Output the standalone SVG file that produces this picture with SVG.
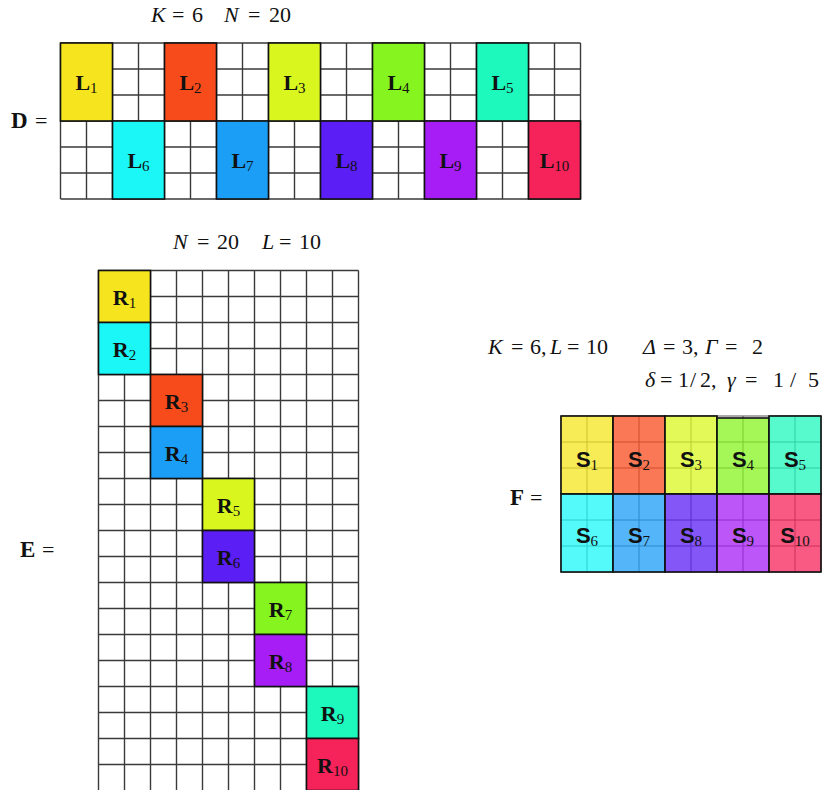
<svg xmlns="http://www.w3.org/2000/svg" width="830" height="790" viewBox="0 0 830 790">
<style>
.g{fill:none;stroke:#3a3a3a;stroke-width:1.4}
.gf{fill:none;stroke:#555;stroke-width:1}
.b{stroke:#111;stroke-width:1.6}
.f{stroke:#111;stroke-width:1.6;fill-opacity:0.75}
.m{font-family:"Liberation Serif","Times New Roman",serif;font-size:22px;fill:#111}
.i{font-style:italic}
.bl{font-family:"Liberation Serif","Times New Roman",serif;font-size:22px;font-weight:bold;fill:#111;text-anchor:middle}
.ss{font-family:"Liberation Sans",Arial,sans-serif;font-size:22px;font-weight:bold;fill:#111;text-anchor:middle}
.sub{font-family:"Liberation Serif","Times New Roman",serif;font-size:15px;font-weight:normal}
.c1{fill:#F6E51E}.c2{fill:#F84B1C}.c3{fill:#D9F71F}.c4{fill:#86F41E}.c5{fill:#1DF8BC}
.c6{fill:#1BF7F7}.c7{fill:#1B9EF5}.c8{fill:#5B1EF5}.c9{fill:#A61EF5}.c10{fill:#F5235A}
</style>
<rect width="830" height="790" fill="#fff"/>

<!-- D matrix -->
<g id="matrixD">
<text class="m"><tspan x="151" y="22" class="i">K</tspan><tspan x="172">=</tspan><tspan x="192">6</tspan><tspan x="224" class="i">N</tspan><tspan x="248">=</tspan><tspan x="269">20</tspan></text>
<text class="m" x="11" y="128"><tspan font-weight="bold" font-size="23">D</tspan><tspan x="35">=</tspan></text>
<path class="g" d="M60.5,43V199M86.5,43V199M112.5,43V199M138.5,43V199M164.5,43V199M190.5,43V199M216.5,43V199M242.5,43V199M268.5,43V199M294.5,43V199M320.5,43V199M346.5,43V199M372.5,43V199M398.5,43V199M424.5,43V199M450.5,43V199M476.5,43V199M502.5,43V199M528.5,43V199M554.5,43V199M580.5,43V199M60.5,43H580.5M60.5,69H580.5M60.5,95H580.5M60.5,121H580.5M60.5,147H580.5M60.5,173H580.5M60.5,199H580.5"/>
<g id="L1"><rect class="b c1" x="60.5" y="43" width="52" height="78"/><text class="bl" x="86.5" y="90">L<tspan class="sub" dy="3">1</tspan></text></g>
<g id="L2"><rect class="b c2" x="164.5" y="43" width="52" height="78"/><text class="bl" x="190.5" y="90">L<tspan class="sub" dy="3">2</tspan></text></g>
<g id="L3"><rect class="b c3" x="268.5" y="43" width="52" height="78"/><text class="bl" x="294.5" y="90">L<tspan class="sub" dy="3">3</tspan></text></g>
<g id="L4"><rect class="b c4" x="372.5" y="43" width="52" height="78"/><text class="bl" x="398.5" y="90">L<tspan class="sub" dy="3">4</tspan></text></g>
<g id="L5"><rect class="b c5" x="476.5" y="43" width="52" height="78"/><text class="bl" x="502.5" y="90">L<tspan class="sub" dy="3">5</tspan></text></g>
<g id="L6"><rect class="b c6" x="112.5" y="121" width="52" height="78"/><text class="bl" x="138.5" y="168">L<tspan class="sub" dy="3">6</tspan></text></g>
<g id="L7"><rect class="b c7" x="216.5" y="121" width="52" height="78"/><text class="bl" x="242.5" y="168">L<tspan class="sub" dy="3">7</tspan></text></g>
<g id="L8"><rect class="b c8" x="320.5" y="121" width="52" height="78"/><text class="bl" x="346.5" y="168">L<tspan class="sub" dy="3">8</tspan></text></g>
<g id="L9"><rect class="b c9" x="424.5" y="121" width="52" height="78"/><text class="bl" x="450.5" y="168">L<tspan class="sub" dy="3">9</tspan></text></g>
<g id="L10"><rect class="b c10" x="528.5" y="121" width="52" height="78"/><text class="bl" x="554.5" y="168">L<tspan class="sub" dy="3">10</tspan></text></g>
</g>

<!-- E matrix -->
<g id="matrixE">
<text class="m"><tspan x="173" y="249" class="i">N</tspan><tspan x="197">=</tspan><tspan x="217">20</tspan><tspan x="262" class="i">L</tspan><tspan x="279">=</tspan><tspan x="299">10</tspan></text>
<text class="m" x="20" y="557"><tspan font-weight="bold" font-size="23">E</tspan><tspan x="42">=</tspan></text>
<path class="g" d="M98.5,270.5V790.5M124.5,270.5V790.5M150.5,270.5V790.5M176.5,270.5V790.5M202.5,270.5V790.5M228.5,270.5V790.5M254.5,270.5V790.5M280.5,270.5V790.5M306.5,270.5V790.5M332.5,270.5V790.5M358.5,270.5V790.5M98.5,270.5H358.5M98.5,296.5H358.5M98.5,322.5H358.5M98.5,348.5H358.5M98.5,374.5H358.5M98.5,400.5H358.5M98.5,426.5H358.5M98.5,452.5H358.5M98.5,478.5H358.5M98.5,504.5H358.5M98.5,530.5H358.5M98.5,556.5H358.5M98.5,582.5H358.5M98.5,608.5H358.5M98.5,634.5H358.5M98.5,660.5H358.5M98.5,686.5H358.5M98.5,712.5H358.5M98.5,738.5H358.5M98.5,764.5H358.5"/>
<g id="R1"><rect class="b c1" x="98.5" y="270.5" width="52" height="52"/><text class="bl" x="124.5" y="304.5">R<tspan class="sub" dy="3">1</tspan></text></g>
<g id="R2"><rect class="b c6" x="98.5" y="322.5" width="52" height="52"/><text class="bl" x="124.5" y="356.5">R<tspan class="sub" dy="3">2</tspan></text></g>
<g id="R3"><rect class="b c2" x="150.5" y="374.5" width="52" height="52"/><text class="bl" x="176.5" y="408.5">R<tspan class="sub" dy="3">3</tspan></text></g>
<g id="R4"><rect class="b c7" x="150.5" y="426.5" width="52" height="52"/><text class="bl" x="176.5" y="460.5">R<tspan class="sub" dy="3">4</tspan></text></g>
<g id="R5"><rect class="b c3" x="202.5" y="478.5" width="52" height="52"/><text class="bl" x="228.5" y="512.5">R<tspan class="sub" dy="3">5</tspan></text></g>
<g id="R6"><rect class="b c8" x="202.5" y="530.5" width="52" height="52"/><text class="bl" x="228.5" y="564.5">R<tspan class="sub" dy="3">6</tspan></text></g>
<g id="R7"><rect class="b c4" x="254.5" y="582.5" width="52" height="52"/><text class="bl" x="280.5" y="616.5">R<tspan class="sub" dy="3">7</tspan></text></g>
<g id="R8"><rect class="b c9" x="254.5" y="634.5" width="52" height="52"/><text class="bl" x="280.5" y="668.5">R<tspan class="sub" dy="3">8</tspan></text></g>
<g id="R9"><rect class="b c5" x="306.5" y="686.5" width="52" height="52"/><text class="bl" x="332.5" y="720.5">R<tspan class="sub" dy="3">9</tspan></text></g>
<g id="R10"><rect class="b c10" x="306.5" y="738.5" width="52" height="52"/><text class="bl" x="332.5" y="772.5">R<tspan class="sub" dy="3">10</tspan></text></g>
</g>

<!-- F matrix -->
<g id="matrixF">
<text class="m"><tspan x="488" y="354" class="i">K</tspan><tspan x="511">=</tspan><tspan x="530">6,</tspan><tspan x="550" class="i">L</tspan><tspan x="567">=</tspan><tspan x="586">10</tspan><tspan x="643" class="i">Δ</tspan><tspan x="663">=</tspan><tspan x="682">3,</tspan><tspan x="705" class="i">Γ</tspan><tspan x="725">=</tspan><tspan x="752">2</tspan></text>
<text class="m"><tspan x="645" y="387" class="i">δ</tspan><tspan x="660">=</tspan><tspan x="678">1</tspan><tspan x="690">/</tspan><tspan x="700">2,</tspan><tspan x="727" class="i">γ</tspan><tspan x="745">=</tspan><tspan x="773">1</tspan><tspan x="790">/</tspan><tspan x="808">5</tspan></text>
<text class="m" x="510" y="505"><tspan font-weight="bold" font-size="23">F</tspan><tspan x="530">=</tspan></text>
<path class="gf" d="M561,416V572M587,416V572M613,416V572M639,416V572M665,416V572M691,416V572M717,416V572M743,416V572M769,416V572M795,416V572M821,416V572M561,416H821M561,442H821M561,468H821M561,494H821M561,520H821M561,546H821M561,572H821"/>
<g id="S1"><rect class="f c1" x="561" y="416" width="52" height="78"/><text class="ss" x="587" y="467">S<tspan class="sub" dy="3">1</tspan></text></g>
<g id="S2"><rect class="f c2" x="613" y="416" width="52" height="78"/><text class="ss" x="639" y="467">S<tspan class="sub" dy="3">2</tspan></text></g>
<g id="S3"><rect class="f c3" x="665" y="416" width="52" height="78"/><text class="ss" x="691" y="467">S<tspan class="sub" dy="3">3</tspan></text></g>
<g id="S4"><rect class="f c4" x="717" y="418" width="52" height="76"/><text class="ss" x="743" y="467">S<tspan class="sub" dy="3">4</tspan></text></g>
<g id="S5"><rect class="f c5" x="769" y="416" width="52" height="78"/><text class="ss" x="795" y="467">S<tspan class="sub" dy="3">5</tspan></text></g>
<g id="S6"><rect class="f c6" x="561" y="494" width="52" height="78"/><text class="ss" x="587" y="543">S<tspan class="sub" dy="3">6</tspan></text></g>
<g id="S7"><rect class="f c7" x="613" y="494" width="52" height="78"/><text class="ss" x="639" y="543">S<tspan class="sub" dy="3">7</tspan></text></g>
<g id="S8"><rect class="f c8" x="665" y="494" width="52" height="78"/><text class="ss" x="691" y="543">S<tspan class="sub" dy="3">8</tspan></text></g>
<g id="S9"><rect class="f c9" x="717" y="494" width="52" height="78"/><text class="ss" x="743" y="543">S<tspan class="sub" dy="3">9</tspan></text></g>
<g id="S10"><rect class="f c10" x="769" y="494" width="52" height="78"/><text class="ss" x="795" y="543">S<tspan class="sub" dy="3">10</tspan></text></g>
</g>
<g id="connectors"/>
</svg>
